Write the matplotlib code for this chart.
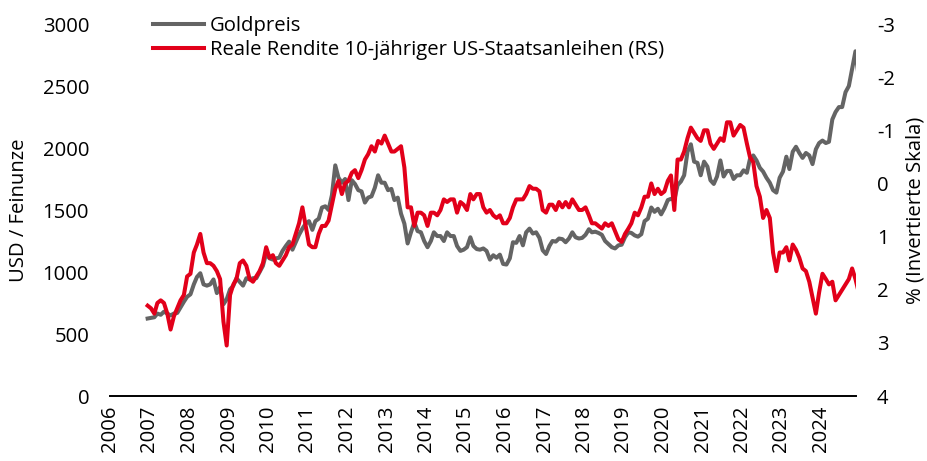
import pandas as pd
import matplotlib
matplotlib.use("Agg")
import matplotlib.pyplot as plt
import matplotlib.dates as mdates

plt.rcParams['font.family'] = ['Open Sans', 'DejaVu Sans']
plt.rcParams['axes.unicode_minus'] = False

# monthly values, Nov 2006 - Nov 2024
months = pd.date_range('2006-11-15', periods=217, freq='MS') + pd.Timedelta(days=14)

gold = [
    625, 630,
    635, 665, 655, 680, 665, 650, 665, 670, 715, 760, 800, 820,
    900, 960, 990, 900, 890, 900, 940, 830, 880, 740, 780, 860,
    890, 950, 920, 890, 950, 940, 950, 950, 1000, 1050, 1150, 1110,
    1100, 1110, 1115, 1170, 1210, 1245, 1180, 1240, 1300, 1350, 1390, 1410,
    1340, 1410, 1430, 1520, 1530, 1500, 1620, 1860, 1760, 1720, 1750, 1580,
    1740, 1710, 1660, 1650, 1560, 1600, 1610, 1680, 1780, 1720, 1720, 1660,
    1670, 1580, 1600, 1470, 1390, 1230, 1320, 1400, 1330, 1320, 1250, 1200,
    1250, 1320, 1290, 1290, 1250, 1320, 1290, 1290, 1210, 1170, 1180, 1200,
    1280, 1210, 1185, 1180, 1190, 1170, 1100, 1135, 1115, 1140, 1065, 1060,
    1110, 1240, 1235, 1290, 1215, 1320, 1350, 1310, 1320, 1275, 1175, 1145,
    1210, 1250, 1245, 1270, 1265, 1240, 1270, 1320, 1280, 1270, 1275, 1300,
    1345, 1320, 1325, 1315, 1300, 1250, 1225, 1200, 1190, 1215, 1220, 1280,
    1320, 1315, 1295, 1285, 1305, 1410, 1430, 1520, 1485, 1510, 1465, 1515,
    1580, 1590, 1580, 1700, 1730, 1780, 1970, 2030, 1890, 1880, 1780, 1890,
    1850, 1740, 1710, 1770, 1900, 1770, 1815, 1815, 1750, 1780, 1780, 1820,
    1800, 1910, 1940, 1900, 1840, 1810, 1760, 1720, 1660, 1640, 1760, 1810,
    1930, 1830, 1970, 2010, 1960, 1920, 1960, 1940, 1870, 1990, 2040, 2060,
    2040, 2050, 2230, 2290, 2330, 2330, 2450, 2500, 2640, 2780, 2570,
]

real_yield = [
    2.3, 2.35,
    2.45, 2.25, 2.2, 2.25, 2.45, 2.75, 2.5, 2.35, 2.2, 2.1, 1.75, 1.7,
    1.3, 1.15, 0.95, 1.3, 1.5, 1.5, 1.55, 1.65, 1.8, 2.6, 3.05, 2.1,
    1.9, 1.8, 1.5, 1.45, 1.55, 1.8, 1.85, 1.75, 1.65, 1.5, 1.2, 1.4,
    1.35, 1.5, 1.55, 1.45, 1.35, 1.2, 1.15, 0.95, 0.75, 0.45, 0.8, 1.15,
    1.2, 1.2, 0.95, 0.8, 0.8, 0.7, 0.4, 0.1, -0.05, 0.2, 0.0, -0.05,
    -0.2, -0.25, -0.1, -0.25, -0.45, -0.55, -0.7, -0.6, -0.8, -0.75, -0.9, -0.75,
    -0.6, -0.6, -0.65, -0.7, -0.3, 0.45, 0.45, 0.8, 0.55, 0.55, 0.6, 0.8,
    0.55, 0.55, 0.6, 0.5, 0.3, 0.35, 0.3, 0.3, 0.55, 0.35, 0.4, 0.5,
    0.2, 0.3, 0.2, 0.2, 0.45, 0.55, 0.5, 0.6, 0.65, 0.6, 0.75, 0.75,
    0.65, 0.45, 0.3, 0.3, 0.3, 0.2, 0.05, 0.1, 0.1, 0.15, 0.5, 0.55,
    0.4, 0.4, 0.5, 0.35, 0.45, 0.35, 0.45, 0.3, 0.4, 0.5, 0.5, 0.45,
    0.6, 0.75, 0.75, 0.8, 0.85, 0.75, 0.8, 0.75, 0.9, 1.05, 1.1, 0.95,
    0.85, 0.75, 0.55, 0.6, 0.45, 0.25, 0.25, 0.0, 0.2, 0.1, 0.2, 0.15,
    -0.05, -0.15, 0.5, -0.45, -0.45, -0.6, -0.85, -1.05, -0.95, -0.85, -0.8, -1.0,
    -1.0, -0.75, -0.65, -0.75, -0.85, -0.8, -1.15, -1.15, -0.9, -1.0, -1.1, -1.05,
    -0.75, -0.5, -0.4, 0.05, 0.25, 0.65, 0.5, 0.65, 1.3, 1.65, 1.3, 1.3,
    1.2, 1.45, 1.15, 1.25, 1.4, 1.6, 1.65, 1.85, 2.15, 2.45, 2.05, 1.7,
    1.8, 1.9, 1.85, 2.2, 2.1, 2.0, 1.9, 1.8, 1.6, 1.8, 2.05,
]

years = list(range(2006, 2025))
left_ticks = [0, 500, 1000, 1500, 2000, 2500, 3000]
right_ticks = [-3, -2, -1, 0, 1, 2, 3, 4]

GREY = '#646464'
RED = '#E2001A'
FS = 14.6

fig = plt.figure(figsize=(9.28, 4.61), dpi=100)
ax = fig.add_axes([110 / 928, 65 / 461, 746 / 928, 372 / 461])
ax2 = ax.twinx()

l1, = ax.plot(months, gold, color=GREY, lw=2.9, label='Goldpreis')
l2, = ax2.plot(months, real_yield, color=RED, lw=2.9,
               label='Reale Rendite 10-jähriger US-Staatsanleihen (RS)')

ax.set_ylim(0, 3000)
ax.set_yticks(left_ticks)
ax2.set_ylim(4, -3)
ax2.set_yticks(right_ticks)
ax.set_xlim(pd.Timestamp('2006-01-01'), pd.Timestamp('2024-11-20'))
ax.set_xticks([pd.Timestamp(f'{y}-01-01') for y in years])
ax.xaxis.set_major_formatter(mdates.DateFormatter('%Y'))

for a in (ax, ax2):
    for s in a.spines.values():
        s.set_visible(False)
    a.tick_params(length=0, labelsize=FS, pad=15)
ax.tick_params(axis='x', pad=7, labelrotation=90)
ax.spines['bottom'].set_visible(True)
ax.spines['bottom'].set_color('black')
ax.spines['bottom'].set_linewidth(1.4)

ax.set_ylabel('USD / Feinunze', fontsize=FS, labelpad=10)
ax2.set_ylabel('% (Invertierte Skala)', fontsize=FS, labelpad=8)

fig.legend(handles=[l1, l2], loc='upper left', bbox_to_anchor=(153 / 928, 1 - 16 / 461),
           frameon=False, fontsize=FS, handlelength=2.5, handletextpad=0.3,
           labelspacing=0.2, borderpad=0, borderaxespad=0)

fig.savefig('out.png', dpi=100)
